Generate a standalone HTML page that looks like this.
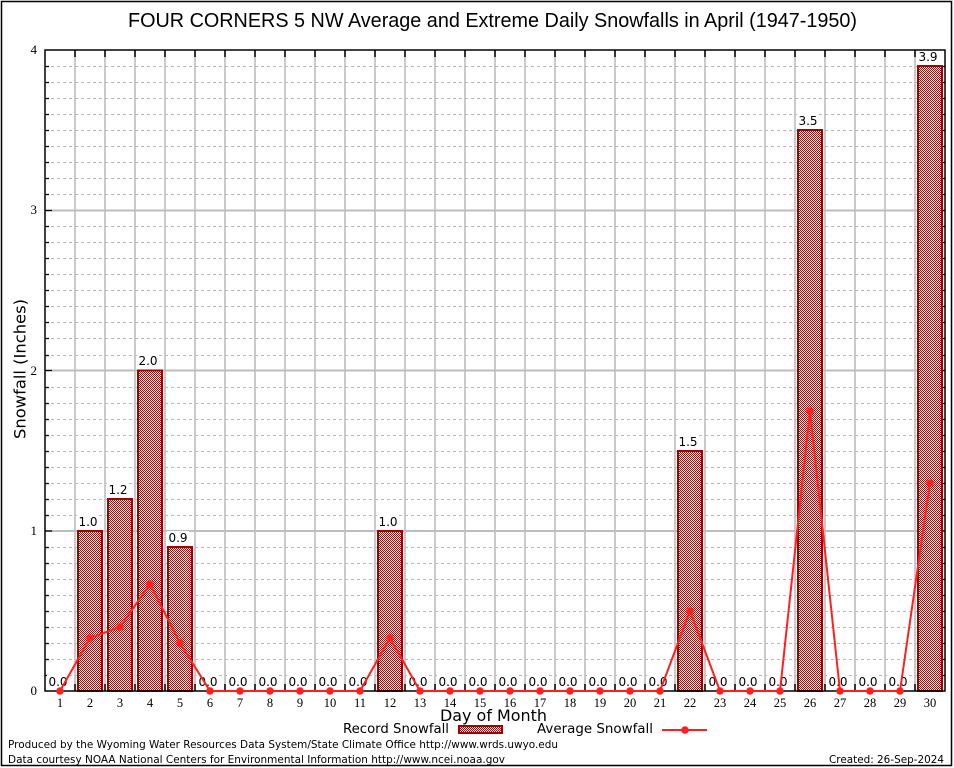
<!DOCTYPE html>
<html><head><meta charset="utf-8"><style>
html,body{margin:0;padding:0;background:#fff;}
svg{display:block;}
</style></head><body>
<svg width="954" height="768" viewBox="0 0 954 768" xmlns="http://www.w3.org/2000/svg">
<defs>
<pattern id="chk" width="2" height="2" patternUnits="userSpaceOnUse">
<rect width="2" height="2" fill="#ffffff"/>
<rect x="0" y="0" width="1" height="1" fill="#c40000"/>
<rect x="1" y="1" width="1" height="1" fill="#c40000"/>
</pattern>
</defs>
<rect x="0" y="0" width="954" height="768" fill="#fff"/>
<rect x="1.5" y="1.5" width="950" height="764" fill="none" stroke="#000" stroke-width="1.5"/>

<text x="492.5" y="27" font-family="Liberation Sans, sans-serif" font-size="20" text-anchor="middle" textLength="729" lengthAdjust="spacingAndGlyphs">FOUR CORNERS 5 NW Average and Extreme Daily Snowfalls in April (1947-1950)</text>

<path d="M45 675.5H945M45 659.5H945M45 643.5H945M45 627.5H945M45 611.5H945M45 595.5H945M45 579.5H945M45 563.5H945M45 547.5H945M45 515.5H945M45 499.5H945M45 483.5H945M45 467.5H945M45 451.5H945M45 435.5H945M45 419.5H945M45 403.5H945M45 387.5H945M45 355.5H945M45 338.5H945M45 322.5H945M45 306.5H945M45 290.5H945M45 274.5H945M45 258.5H945M45 242.5H945M45 226.5H945M45 194.5H945M45 178.5H945M45 162.5H945M45 146.5H945M45 130.5H945M45 114.5H945M45 98.5H945M45 82.5H945M45 66.5H945" stroke="#b8b8b8" stroke-width="1" stroke-dasharray="3,3" fill="none"/>
<path d="M45 531H945M45 370.5H945M45 210.5H945" stroke="#bdbdbd" stroke-width="2" fill="none"/>
<path d="M75 50V691M105 50V691M135 50V691M165 50V691M195 50V691M225 50V691M255 50V691M285 50V691M315 50V691M345 50V691M375 50V691M405 50V691M435 50V691M465 50V691M495 50V691M525 50V691M555 50V691M585 50V691M615 50V691M645 50V691M675 50V691M705 50V691M735 50V691M765 50V691M795 50V691M825 50V691M855 50V691M885 50V691M915 50V691" stroke="#bdbdbd" stroke-width="1.6" fill="none"/>
<path d="M75 50v7M105 50v7M135 50v7M165 50v7M195 50v7M225 50v7M255 50v7M285 50v7M315 50v7M345 50v7M375 50v7M405 50v7M435 50v7M465 50v7M495 50v7M525 50v7M555 50v7M585 50v7M615 50v7M645 50v7M675 50v7M705 50v7M735 50v7M765 50v7M795 50v7M825 50v7M855 50v7M885 50v7M915 50v7M75 691v-7M105 691v-7M135 691v-7M165 691v-7M195 691v-7M225 691v-7M255 691v-7M285 691v-7M315 691v-7M345 691v-7M375 691v-7M405 691v-7M435 691v-7M465 691v-7M495 691v-7M525 691v-7M555 691v-7M585 691v-7M615 691v-7M645 691v-7M675 691v-7M705 691v-7M735 691v-7M765 691v-7M795 691v-7M825 691v-7M855 691v-7M885 691v-7M915 691v-7" stroke="#000" stroke-width="1.5" fill="none"/>
<path d="M45 675.5h4M45 659.5h4M45 643.5h4M45 627.5h4M45 611.5h4M45 595.5h4M45 579.5h4M45 563.5h4M45 547.5h4M45 515.5h4M45 499.5h4M45 483.5h4M45 467.5h4M45 451.5h4M45 435.5h4M45 419.5h4M45 403.5h4M45 387.5h4M45 355.5h4M45 338.5h4M45 322.5h4M45 306.5h4M45 290.5h4M45 274.5h4M45 258.5h4M45 242.5h4M45 226.5h4M45 194.5h4M45 178.5h4M45 162.5h4M45 146.5h4M45 130.5h4M45 114.5h4M45 98.5h4M45 82.5h4M45 66.5h4M45 531h7M45 370.5h7M45 210.5h7M945 675.5h-4M945 659.5h-4M945 643.5h-4M945 627.5h-4M945 611.5h-4M945 595.5h-4M945 579.5h-4M945 563.5h-4M945 547.5h-4M945 515.5h-4M945 499.5h-4M945 483.5h-4M945 467.5h-4M945 451.5h-4M945 435.5h-4M945 419.5h-4M945 403.5h-4M945 387.5h-4M945 355.5h-4M945 338.5h-4M945 322.5h-4M945 306.5h-4M945 290.5h-4M945 274.5h-4M945 258.5h-4M945 242.5h-4M945 226.5h-4M945 194.5h-4M945 178.5h-4M945 162.5h-4M945 146.5h-4M945 130.5h-4M945 114.5h-4M945 98.5h-4M945 82.5h-4M945 66.5h-4M945 531h-7M945 370.5h-7M945 210.5h-7" stroke="#000" stroke-width="1.2" fill="none"/>

<g fill="url(#chk)" stroke="#a00000" stroke-width="2">
<rect x="78" y="531" width="24" height="160"/>
<rect x="108" y="499" width="24" height="192"/>
<rect x="138" y="370.5" width="24" height="320.5"/>
<rect x="168" y="547" width="24" height="144"/>
<rect x="378" y="531" width="24" height="160"/>
<rect x="678" y="451" width="24" height="240"/>
<rect x="798" y="130" width="24" height="561"/>
<rect x="918" y="66" width="24" height="625"/>
</g>

<rect x="45" y="50" width="900" height="641" fill="none" stroke="#000" stroke-width="1.5"/>

<g fill="#fff">
<rect x="47" y="675" width="22" height="12"/>
<rect x="77" y="515" width="22" height="12"/>
<rect x="107" y="483" width="22" height="12"/>
<rect x="137" y="354" width="22" height="12"/>
<rect x="167" y="531" width="22" height="12"/>
<rect x="197" y="675" width="22" height="12"/>
<rect x="227" y="675" width="22" height="12"/>
<rect x="257" y="675" width="22" height="12"/>
<rect x="287" y="675" width="22" height="12"/>
<rect x="317" y="675" width="22" height="12"/>
<rect x="347" y="675" width="22" height="12"/>
<rect x="377" y="515" width="22" height="12"/>
<rect x="407" y="675" width="22" height="12"/>
<rect x="437" y="675" width="22" height="12"/>
<rect x="467" y="675" width="22" height="12"/>
<rect x="497" y="675" width="22" height="12"/>
<rect x="527" y="675" width="22" height="12"/>
<rect x="557" y="675" width="22" height="12"/>
<rect x="587" y="675" width="22" height="12"/>
<rect x="617" y="675" width="22" height="12"/>
<rect x="647" y="675" width="22" height="12"/>
<rect x="677" y="435" width="22" height="12"/>
<rect x="707" y="675" width="22" height="12"/>
<rect x="737" y="675" width="22" height="12"/>
<rect x="767" y="675" width="22" height="12"/>
<rect x="797" y="114" width="22" height="12"/>
<rect x="827" y="675" width="22" height="12"/>
<rect x="857" y="675" width="22" height="12"/>
<rect x="887" y="675" width="22" height="12"/>
<rect x="917" y="51" width="22" height="11"/>
</g>
<g font-family="DejaVu Sans, sans-serif" font-size="12" text-anchor="middle" fill="#000">
<text x="58" y="686">0.0</text>
<text x="88" y="526">1.0</text>
<text x="118" y="494">1.2</text>
<text x="148" y="365">2.0</text>
<text x="178" y="542">0.9</text>
<text x="208" y="686">0.0</text>
<text x="238" y="686">0.0</text>
<text x="268" y="686">0.0</text>
<text x="298" y="686">0.0</text>
<text x="328" y="686">0.0</text>
<text x="358" y="686">0.0</text>
<text x="388" y="526">1.0</text>
<text x="418" y="686">0.0</text>
<text x="448" y="686">0.0</text>
<text x="478" y="686">0.0</text>
<text x="508" y="686">0.0</text>
<text x="538" y="686">0.0</text>
<text x="568" y="686">0.0</text>
<text x="598" y="686">0.0</text>
<text x="628" y="686">0.0</text>
<text x="658" y="686">0.0</text>
<text x="688" y="446">1.5</text>
<text x="718" y="686">0.0</text>
<text x="748" y="686">0.0</text>
<text x="778" y="686">0.0</text>
<text x="808" y="125">3.5</text>
<text x="838" y="686">0.0</text>
<text x="868" y="686">0.0</text>
<text x="898" y="686">0.0</text>
<text x="928" y="61">3.9</text>
</g>

<polyline points="60,691 90,638 120,627 150,584 180,643 210,691 240,691 270,691 300,691 330,691 360,691 390,638 420,691 450,691 480,691 510,691 540,691 570,691 600,691 630,691 660,691 690,611 720,691 750,691 780,691 810,411 840,691 870,691 900,691 930,483" fill="none" stroke="#ff2020" stroke-width="2"/>
<g fill="#ff2020">
<circle cx="60" cy="691" r="3.8"/><circle cx="90" cy="638" r="3.8"/><circle cx="120" cy="627" r="3.8"/><circle cx="150" cy="584" r="3.8"/><circle cx="180" cy="643" r="3.8"/><circle cx="210" cy="691" r="3.8"/><circle cx="240" cy="691" r="3.8"/><circle cx="270" cy="691" r="3.8"/><circle cx="300" cy="691" r="3.8"/><circle cx="330" cy="691" r="3.8"/><circle cx="360" cy="691" r="3.8"/><circle cx="390" cy="638" r="3.8"/><circle cx="420" cy="691" r="3.8"/><circle cx="450" cy="691" r="3.8"/><circle cx="480" cy="691" r="3.8"/><circle cx="510" cy="691" r="3.8"/><circle cx="540" cy="691" r="3.8"/><circle cx="570" cy="691" r="3.8"/><circle cx="600" cy="691" r="3.8"/><circle cx="630" cy="691" r="3.8"/><circle cx="660" cy="691" r="3.8"/><circle cx="690" cy="611" r="3.8"/><circle cx="720" cy="691" r="3.8"/><circle cx="750" cy="691" r="3.8"/><circle cx="780" cy="691" r="3.8"/><circle cx="810" cy="411" r="3.8"/><circle cx="840" cy="691" r="3.8"/><circle cx="870" cy="691" r="3.8"/><circle cx="900" cy="691" r="3.8"/><circle cx="930" cy="483" r="3.8"/>
</g>

<g font-family="Liberation Serif, serif" font-size="13" text-anchor="end" fill="#000">
<text x="37" y="695">0</text>
<text x="37" y="535">1</text>
<text x="37" y="375">2</text>
<text x="37" y="214">3</text>
<text x="37" y="54">4</text>
</g>
<g font-family="Liberation Serif, serif" font-size="12.5" text-anchor="middle" fill="#000">
<text x="60" y="707">1</text><text x="90" y="707">2</text><text x="120" y="707">3</text><text x="150" y="707">4</text><text x="180" y="707">5</text><text x="210" y="707">6</text><text x="240" y="707">7</text><text x="270" y="707">8</text><text x="300" y="707">9</text><text x="330" y="707">10</text><text x="360" y="707">11</text><text x="390" y="707">12</text><text x="420" y="707">13</text><text x="450" y="707">14</text><text x="480" y="707">15</text><text x="510" y="707">16</text><text x="540" y="707">17</text><text x="570" y="707">18</text><text x="600" y="707">19</text><text x="630" y="707">20</text><text x="660" y="707">21</text><text x="690" y="707">22</text><text x="720" y="707">23</text><text x="750" y="707">24</text><text x="780" y="707">25</text><text x="810" y="707">26</text><text x="840" y="707">27</text><text x="870" y="707">28</text><text x="900" y="707">29</text><text x="930" y="707">30</text>
</g>

<text x="493.5" y="721" font-family="DejaVu Sans, sans-serif" font-size="16" text-anchor="middle" textLength="107" lengthAdjust="spacingAndGlyphs">Day of Month</text>
<text transform="translate(25.5,369) rotate(-90)" font-family="DejaVu Sans, sans-serif" font-size="16" text-anchor="middle" textLength="140" lengthAdjust="spacingAndGlyphs">Snowfall (Inches)</text>

<text x="343" y="733" font-family="DejaVu Sans, sans-serif" font-size="13" textLength="106" lengthAdjust="spacingAndGlyphs">Record Snowfall</text>
<rect x="459" y="726" width="43" height="7" fill="url(#chk)" stroke="#a00000" stroke-width="2"/>
<text x="537" y="733" font-family="DejaVu Sans, sans-serif" font-size="13" textLength="116" lengthAdjust="spacingAndGlyphs">Average Snowfall</text>
<line x1="662" y1="730" x2="707" y2="730" stroke="#ff2020" stroke-width="2"/>
<circle cx="685" cy="730" r="3.8" fill="#ff2020"/>

<text x="8" y="748" font-family="DejaVu Sans, sans-serif" font-size="11" textLength="550" lengthAdjust="spacingAndGlyphs">Produced by the Wyoming Water Resources Data System/State Climate Office http://www.wrds.uwyo.edu</text>
<text x="8" y="763" font-family="DejaVu Sans, sans-serif" font-size="11" textLength="497" lengthAdjust="spacingAndGlyphs">Data courtesy NOAA National Centers for Environmental Information http://www.ncei.noaa.gov</text>
<text x="944" y="763" font-family="DejaVu Sans, sans-serif" font-size="11" text-anchor="end" textLength="115" lengthAdjust="spacingAndGlyphs">Created: 26-Sep-2024</text>
</svg>
</body></html>
